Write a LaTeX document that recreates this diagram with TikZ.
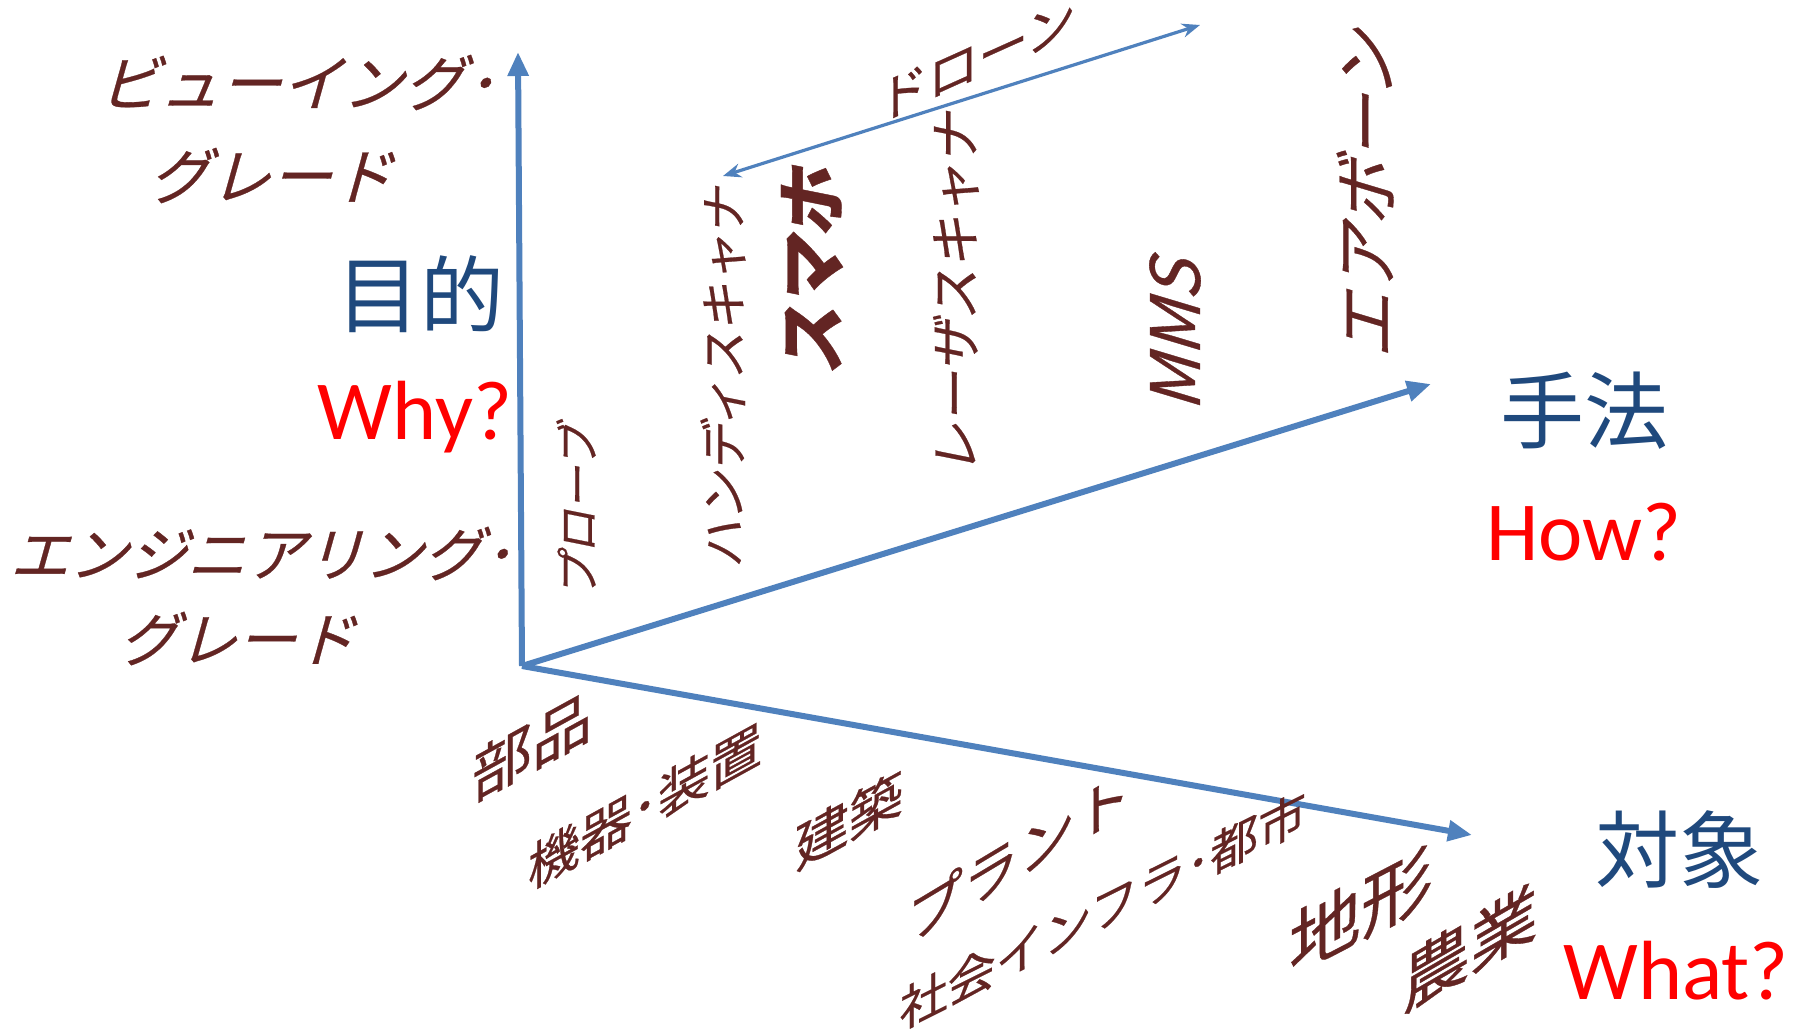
\documentclass[tikz,border=0pt]{standalone}
\usepackage{fontspec}
\newfontfamily\jp{Noto Sans CJK JP}
\newfontfamily\jpw[FakeBold=0.5]{Noto Sans CJK JP}
\newfontfamily\lat{Carlito}
\usetikzlibrary{arrows.meta}
\definecolor{axisblue}{HTML}{4F81BD}
\definecolor{brn}{HTML}{632523}
\definecolor{ttl}{HTML}{1F497D}
\definecolor{qred}{HTML}{FF0000}
\tikzset{
  axisarrow/.style={draw=axisblue, line width=3pt, -{Triangle[length=12pt,width=10pt]}},
  dronearrow/.style={draw=axisblue, line width=1.6pt, {Stealth[length=9pt,width=7pt]}-{Stealth[length=9pt,width=7pt]}},
  lbl/.style={text=brn, inner sep=0pt, align=center},
  vlbl/.style={lbl, rotate=90, xslant=0.2},
  ttlbl/.style={text=ttl, inner sep=0pt, font={\jp\fontsize{42}{50}\selectfont}},
  qlbl/.style={text=qred, inner sep=0pt, font={\lat\fontsize{42}{50}\selectfont}},
}
\newcommand\jfs[1]{\jpw\fontsize{#1}{#1}\selectfont}
\begin{document}
\begin{tikzpicture}[x=0.5pt,y=-0.5pt]
\useasboundingbox[fill=white] (0,0) rectangle (1806,1031);
% axes
\coordinate (O) at (522,666);
\coordinate (Wtop) at (518,52);
\coordinate (Htip) at (1431,384);
\coordinate (Otip) at (1472,835);
\coordinate (D1) at (723,176);
\coordinate (D2) at (1200,25);
\draw[axisarrow] (O) -- (Wtop);
\draw[axisarrow] (O) -- (Htip);
\draw[axisarrow] (O) -- (Otip);
\draw[dronearrow] (D1) -- (D2);
% left labels
\node[lbl, xslant=0.28, font={\jfs{30.5}}] (vg) at (290,129) {ビューイング･\\[16pt]グレード};
\node[lbl, xslant=0.28, font={\jfs{29.5}}] (eg) at (255,596) {エンジニアリング･\\[13pt]グレード};
\node[ttlbl] (mokuteki) at (420,294) {目的};
\node[qlbl] (why) at (415,417) {Why?};
% method labels
\node[vlbl, font={\jfs{22}}] (probe) at (576,507) {プローブ};
\node[vlbl, font={\jfs{24}}] (handy) at (723,374) {ハンディスキャナ};
\node[vlbl, font={\jfs{35}\bfseries}] (smaho) at (812,267) {スマホ};
\node[vlbl, font={\jfs{26}}] (laser) at (956,290) {レーザスキャナ};
\node[lbl, yslant=0.45, font={\jfs{25}}] (drone) at (977,60) {ドローン};
\node[vlbl, xslant=0.1, font={\jfs{34}}] (mms) at (1175,329) {MMS};
\node[vlbl, xslant=0.1, font={\jfs{33}}] (air) at (1365,188) {エアボーン};
\node[ttlbl] (shuho) at (1584,411) {手法};
\node[qlbl] (how) at (1584,532) {How?};
% object labels
\node[lbl, yslant=0.55, font={\jfs{30}}] (buhin) at (532,746) {部品};
\node[lbl, yslant=0.55, font={\jfs{26}}] (kiki) at (645,806) {機器･装置};
\node[lbl, yslant=0.55, font={\jfs{27}}] (kenchiku) at (849,820) {建築};
\node[lbl, yslant=0.6, font={\jfs{28}}] (plant) at (1019,855) {プラント};
\node[lbl, yslant=0.5, font={\jfs{24}}] (infra) at (1103,910) {社会インフラ･都市};
\node[lbl, yslant=0.52, font={\jfs{36}}] (chikei) at (1361,910) {地形};
\node[lbl, yslant=0.58, font={\jfs{34}}] (nogyo) at (1470,947) {農業};
\node[ttlbl] (taisho) at (1679,850) {対象};
\node[qlbl] (what) at (1676,971) {What?};
\end{tikzpicture}
\end{document}
